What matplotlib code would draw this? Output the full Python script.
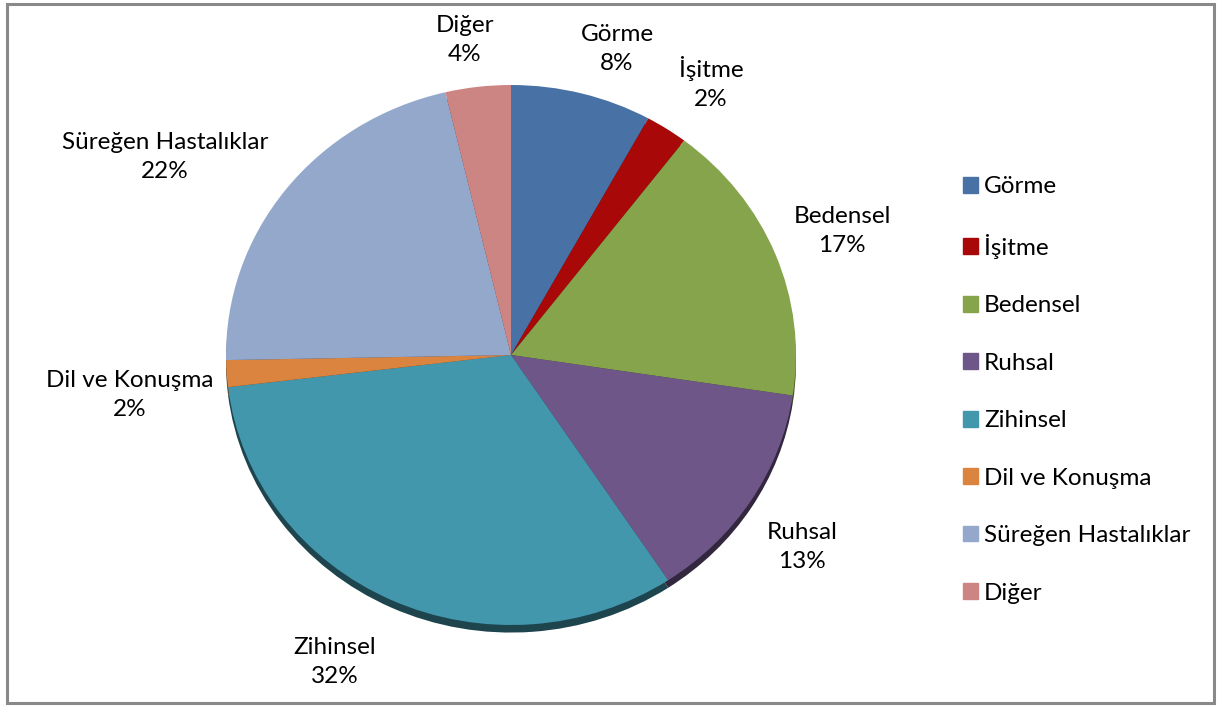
import numpy as np
import matplotlib.pyplot as plt
from matplotlib.colors import to_rgb
from matplotlib.patches import Rectangle

# data (percent)
labels = ['Görme', 'İşitme', 'Bedensel', 'Ruhsal', 'Zihinsel',
          'Dil ve Konuşma', 'Süreğen Hastalıklar', 'Diğer']
values = [8.0, 2.4, 17.0, 13.3, 32.4, 1.6, 21.6, 3.7]
colors = ['#4872A5', '#A80808', '#86A44B', '#6E5689', '#4297AD',
          '#DA843F', '#94A8CC', '#CD8584']

W, H = 1217, 707
# pie centre and radii in pixels
cx, cy, rx, ry = 511, 355, 285, 270

# label centres in pixels (two-line blocks)
label_px = [(617, 49), (711, 83), (842, 231), (802, 547),
            (335, 662), (130, 395), (165, 157), (465, 40)]

plt.rcParams['font.family'] = ['Lato', 'DejaVu Sans']

fig = plt.figure(figsize=(W / 100, H / 100), dpi=100)
fig.patch.set_facecolor('white')

ax = fig.add_axes([(cx - rx) / W, (H - cy - ry) / H, 2 * rx / W, 2 * ry / H])

# shadow: darker copy shifted down
dark = [tuple(c * 0.45 for c in to_rgb(col)) for col in colors]
ax.pie(values, colors=dark, startangle=90, counterclock=False,
       center=(0, -0.028), radius=1.0, frame=True)
ax.pie(values, colors=colors, startangle=90, counterclock=False,
       radius=1.0, frame=True)
ax.set_xlim(-1, 1)
ax.set_ylim(-1, 1)
ax.set_aspect('auto')
ax.axis('off')

for lab, v, (px, py) in zip(labels, values, label_px):
    fig.text(px / W, 1 - py / H, f'{lab}\n{round(v)}%', ha='center', va='center',
             fontsize=17.5, linespacing=1.5, color='black')

# legend
handles = [Rectangle((0, 0), 1, 1, color=c) for c in colors]
fig.legend(handles, labels, loc='center left', bbox_to_anchor=(941 / W, 1 - 390 / H),
           frameon=False, fontsize=17.5, handlelength=0.62, handleheight=0.62,
           handletextpad=0.25, labelspacing=1.50)

# outer border
fig.add_artist(Rectangle((7 / W, 4 / H), 1207 / W, 699 / H, transform=fig.transFigure,
                         fill=False, edgecolor='#898989', linewidth=2.2))

fig.savefig('out.png', dpi=100)
